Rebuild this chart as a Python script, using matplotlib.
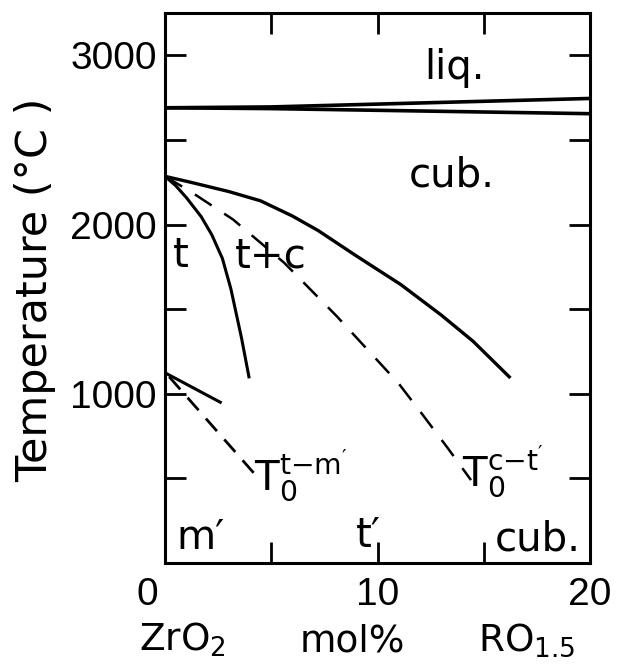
# ZrO2 - RO1.5 phase diagram
import matplotlib
matplotlib.use("Agg")
import matplotlib.pyplot as plt
import matplotlib.transforms as mtransforms

plt.rcParams['font.family'] = ['DejaVu Sans']
plt.rcParams['mathtext.fontset'] = 'dejavusans'

# liquidus / solidus
liq_x = [0, 5, 20]
liq_upper = [2690, 2695, 2745]
liq_lower = [2690, 2685, 2655]

# cub / t+c boundary (solid)
cub_x = [0, 1.2, 3, 4.5, 6, 7.2, 9, 11.1, 13, 14.5, 16.2]
cub_y = [2285, 2250, 2195, 2140, 2050, 1965, 1815, 1645, 1465, 1310, 1100]

# t / t+c boundary (solid)
t_x = [0, 0.5, 1.0, 1.7, 2.2, 2.7, 3.1, 3.6, 3.95]
t_y = [2285, 2230, 2160, 2047, 1940, 1800, 1620, 1330, 1100]

# T0 c-t' (dashed)
ct_x = [0, 1.2, 3.2, 5.6, 8.1, 11.0, 12.1, 13.3, 14.4]
ct_y = [2285, 2195, 2030, 1775, 1456, 1060, 880, 680, 490]

# t-m boundary (short solid) and T0 t-m' (dashed)
tm_x = [0, 2.6]
tm_y = [1124, 950]
tm0_x = [0.2, 4.4]
tm0_y = [1100, 500]

xticks = [0, 5, 10, 15, 20]
xticklabels = ['0', '', '10', '', '20']
yticks = [500, 1000, 1500, 2000, 2500, 3000]
yticklabels = ['', '1000', '', '2000', '', '3000']

W, H = 619, 666
fig = plt.figure(figsize=(W / 100, H / 100), dpi=100)
ax = fig.add_axes([165 / W, 1 - 563 / H, (590 - 165) / W, (563 - 13) / H])

ax.plot(liq_x, liq_upper, color='black', lw=2.6)
ax.plot(liq_x, liq_lower, color='black', lw=2.6)
ax.plot(cub_x, cub_y, color='black', lw=2.4)
ax.plot(t_x, t_y, color='black', lw=2.2)
ax.plot(ct_x, ct_y, color='black', lw=1.8, dashes=(8, 6))
ax.plot(tm_x, tm_y, color='black', lw=2.2)
ax.plot(tm0_x, tm0_y, color='black', lw=2.0, dashes=(6, 4))

ax.set_xlim(0, 20)
ax.set_ylim(0, 3250)

narrow = ['Liberation Sans Narrow', 'Liberation Sans', 'DejaVu Sans']
ax.set_xticks(xticks)
ax.set_xticklabels(xticklabels, family=narrow, fontsize=28)
ax.set_yticks(yticks)
ax.set_yticklabels(yticklabels, family=narrow, fontsize=28)
ax.tick_params(direction='in', length=15, width=2, top=True, right=True)
ax.tick_params(axis='x', pad=10)
ax.tick_params(axis='y', pad=6)
for s in ax.spines.values():
    s.set_linewidth(2.2)

# the "0" sits a little left of the axis
lab0 = ax.get_xticklabels()[0]
lab0.set_transform(lab0.get_transform() + mtransforms.ScaledTranslation(-0.18, 0, fig.dpi_scale_trans))

# region labels
fs = 29
ax.text(13.6, 2860, 'liq.', fontsize=fs, ha='center', va='baseline')
ax.text(13.5, 2225, 'cub.', fontsize=fs, ha='center', va='baseline')
ax.text(0.75, 1750, 't', fontsize=fs, ha='center', va='baseline')
ax.text(5.0, 1746, 't+c', fontsize=fs, ha='center', va='baseline')
ax.text(4.2, 432, r"$\mathregular{T_0^{t{-}m'}}$", fontsize=fs, ha='left', va='baseline')
ax.text(14.0, 450, r"$\mathregular{T_0^{c{-}t'}}$", fontsize=fs, ha='left', va='baseline')
ax.text(0.55, 80, 'm\u2032', fontsize=fs, ha='left', va='baseline')
ax.text(9.0, 95, 't\u2032', fontsize=fs, ha='left', va='baseline')
ax.text(15.5, 72, 'cub.', fontsize=fs, ha='left', va='baseline')

# axis titles
fig.text(35 / W, 1 - 290 / H, 'Temperature (°C )', rotation=90, fontsize=31,
         ha='center', va='center')
fig.text(182 / W, 1 - 651 / H, r'ZrO$_2$', fontsize=27, ha='center', va='baseline')
fig.text(352 / W, 1 - 651 / H, 'mol%', fontsize=27, ha='center', va='baseline')
fig.text(527 / W, 1 - 651 / H, r'RO$_{1.5}$', fontsize=27, ha='center', va='baseline')

fig.savefig('out.png', dpi=100)
